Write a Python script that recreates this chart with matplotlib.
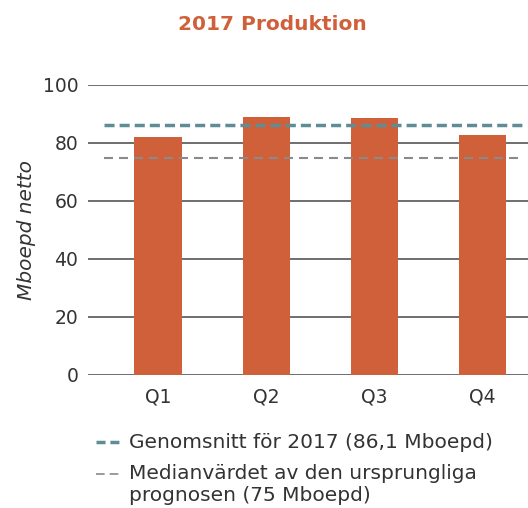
import matplotlib
matplotlib.use("Agg")
import matplotlib.pyplot as plt
from matplotlib.lines import Line2D

plt.rcParams['font.family'] = ['DejaVu Sans']

quarters = ["Q1", "Q2", "Q3", "Q4"]
production = [82.2, 89.0, 88.6, 82.7]
average_2017 = 86.1
median_guidance = 75
yticks = [0, 20, 40, 60, 80, 100]
title = "2017 Produktion"
ylabel = "Mboepd netto"
legend_labels = ["Genomsnitt för 2017 (86,1 Mboepd)",
                 "Medianvärdet av den ursprungliga\nprognosen (75 Mboepd)"]

bar_color = "#D0603A"
teal = "#5E8D96"
gray = "#8A8A8A"
text_color = "#333333"

fig = plt.figure(figsize=(5.28, 5.08), dpi=100)
ax = fig.add_axes([88/528, 1-375/508, 440/528, 290/508])

x = list(range(len(quarters)))
ax.bar(x, production, width=0.44, color=bar_color, zorder=3)
for t in yticks:
    ax.axhline(t, color="#555555", lw=1.2, zorder=1)
ax.hlines(average_2017, -0.5, 3.38, colors=teal, linestyles=(0, (2.9, 1.45)), lw=2.5, zorder=4)
ax.hlines(median_guidance, -0.5, 3.38, colors=gray, linestyles=(0, (4.3, 2.9)), lw=1.5, zorder=4)

ax.set_xlim(-0.65, 3.42)
ax.set_ylim(0, 100)
ax.set_yticks(yticks)
ax.set_xticks(x)
ax.set_xticklabels(quarters)
ax.tick_params(length=0, labelsize=13.5, colors=text_color, pad=7)
ax.tick_params(axis='x', pad=9)
for s in ax.spines.values():
    s.set_visible(False)
ax.set_ylabel(ylabel, fontsize=14.5, style='italic', color=text_color, labelpad=5)

fig.text(272/528, 1-25/508, title, color=bar_color, fontsize=14.5, fontweight='bold',
         ha='center', va='center')

# legend
fig.add_artist(Line2D([96/528, 119/528], [1-442/508]*2, color=teal, lw=2.5,
                      linestyle=(0, (2.6, 1.4)), transform=fig.transFigure))
fig.text(129/528, 1-442/508, legend_labels[0], fontsize=14.5, color=text_color, va='center')
fig.add_artist(Line2D([96/528, 119/528], [1-474/508]*2, color=gray, lw=1.2,
                      linestyle=(0, (5.2, 3)), transform=fig.transFigure))
fig.text(129/528, 1-464/508, legend_labels[1], fontsize=14.5, color=text_color, va='top',
         linespacing=1.22)

fig.savefig("out.png", dpi=100)
